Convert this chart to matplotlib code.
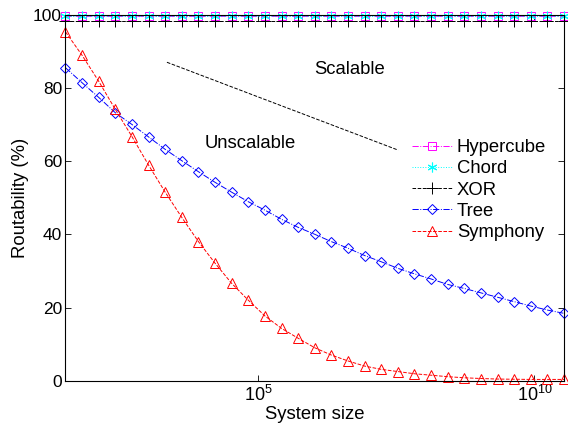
import numpy as np
import matplotlib
matplotlib.use("Agg")
import matplotlib.pyplot as plt
from matplotlib.ticker import FixedLocator, NullLocator

plt.rcParams.update({
    "font.family": ["Liberation Sans", "DejaVu Sans"],
    "font.size": 13.3,
    "mathtext.fontset": "custom",
    "mathtext.rm": "Liberation Sans",
    "mathtext.default": "regular",
    "xtick.direction": "in",
    "ytick.direction": "in",
    "xtick.top": True,
    "ytick.right": True,
})

# system sizes 2^5 .. 2^35
system_size = [2 ** k for k in range(5, 36)]

hypercube = [99.6] * 31
chord = [99.6] * 31
xor = [98.4] * 31
tree = [85.5, 81.4, 77.4, 73.2, 70.0, 66.6, 63.2, 60.1, 57.1, 54.2, 51.5,
        48.9, 46.6, 44.1, 41.9, 40.0, 38.0, 36.2, 34.2, 32.5, 30.7, 29.2,
        27.8, 26.3, 25.2, 24.0, 22.8, 21.6, 20.4, 19.3, 18.4]
symphony = [95.3, 88.9, 81.8, 74.1, 66.7, 58.9, 51.5, 44.6, 38.0, 32.1, 26.6,
            22.0, 17.7, 14.3, 11.6, 9.0, 7.0, 5.4, 4.0, 3.1, 2.5, 1.9,
            1.5, 1.1, 0.8, 0.6, 0.45, 0.4, 0.35, 0.35, 0.35]

# dividing line between the two regions
divider_x = [2.2e3, 3.4e7]
divider_y = [87.0, 63.0]

fig = plt.figure(figsize=(5.68, 4.28), dpi=100)
ax = fig.add_axes([0.1153, 0.1105, 0.8777, 0.8552])

lw = 0.7
ax.plot(system_size, hypercube, "-.", color="#ff00ff", marker="s", ms=5.5,
        mfc="none", mew=0.7, lw=lw, label="Hypercube", clip_on=False)
ax.plot(system_size, chord, ":", color="#00ffff", marker=(6, 2, 0), ms=7,
        mew=0.8, lw=lw, label="Chord", clip_on=False)
ax.plot(system_size, xor, "--", color="black", marker="+", ms=8,
        mew=0.7, lw=lw, label="XOR", clip_on=False)
ax.plot(system_size, tree, "-.", color="#0000ff", marker="D", ms=5.5,
        mfc="none", mew=0.7, lw=lw, label="Tree", clip_on=False)
ax.plot(system_size, symphony, "--", color="#ff0000", marker="^", ms=7.5,
        mfc="none", mew=0.7, lw=lw, label="Symphony", clip_on=False)

ax.plot(divider_x, divider_y, "--", color="black", lw=0.7)
ax.text(4.5e6, 84.9, "Scalable", ha="center", va="center")
ax.text(7.0e4, 64.9, "Unscalable", ha="center", va="center")

ax.set_xscale("log")
ax.set_xlim(2 ** 5, 2 ** 35)
ax.set_ylim(0, 100)
ax.xaxis.set_major_locator(FixedLocator([1e5, 1e10]))
ax.xaxis.set_minor_locator(NullLocator())
ax.set_xticklabels(["$10^{5}$", "$10^{10}$"], fontsize=13)
ax.set_yticks([0, 20, 40, 60, 80, 100])
ax.tick_params(axis="y", labelsize=12.5, pad=2.5)
ax.tick_params(axis="x", pad=3)
ax.tick_params(length=4, width=0.6)
ax.set_xlabel("System size", labelpad=1)
ax.set_ylabel("Routability (%)", labelpad=3)

leg = ax.legend(loc="upper left", bbox_to_anchor=(0.695, 0.66), frameon=False,
                handlelength=2.16, handletextpad=0.27, labelspacing=0.23,
                borderaxespad=0, borderpad=0)

fig.savefig("out.png", dpi=100)
